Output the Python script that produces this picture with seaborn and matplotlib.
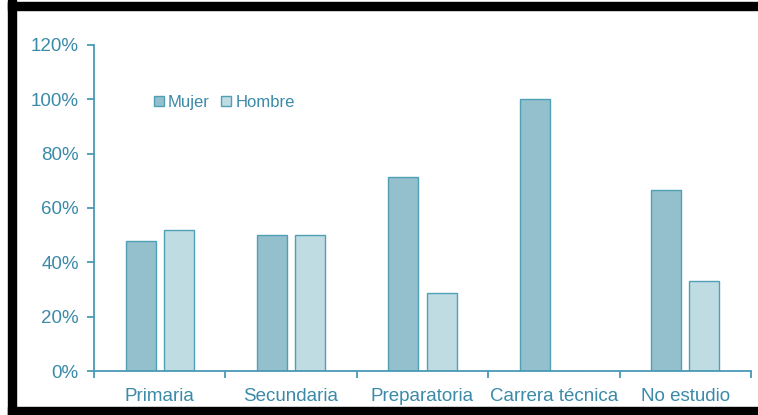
import numpy as np
import pandas as pd
import matplotlib
matplotlib.use('Agg')
import matplotlib.pyplot as plt
import seaborn as sns
from matplotlib.patches import Rectangle
from matplotlib.ticker import PercentFormatter

niveles = ['Primaria', 'Secundaria', 'Preparatoria', 'Carrera técnica', 'No estudio']
mujer = [0.48, 0.50, 0.714, 1.00, 0.667]
hombre = [0.52, 0.50, 0.286, 0.00, 0.333]

df = pd.DataFrame({
    'Nivel': niveles * 2,
    'Sexo': ['Mujer'] * 5 + ['Hombre'] * 5,
    'Valor': mujer + hombre,
})

sns.set_style('white')
plt.rcParams['font.family'] = ['Liberation Sans', 'DejaVu Sans']

txt = '#3a8aa8'
axc = '#4a9ab5'

fig = plt.figure(figsize=(7.58, 4.15), dpi=100)
ax = fig.add_axes([94/758, 1 - 371/415, (751 - 94)/758, (371 - 45)/415])

sns.barplot(data=df, x='Nivel', y='Valor', hue='Sexo', order=niveles,
            palette={'Mujer': '#93c0cc', 'Hombre': '#bfdce2'}, saturation=1,
            width=0.58, gap=0.21, edgecolor='#4f9fb5', linewidth=1, ax=ax)

ax.set_ylim(0, 1.2)
ax.set_xlim(-0.5, 4.5)
ax.set_yticks(np.arange(0, 1.21, 0.2))
ax.yaxis.set_major_formatter(PercentFormatter(1.0, decimals=0))
ax.set_xlabel('')
ax.set_ylabel('')

for s in ['top', 'right']:
    ax.spines[s].set_visible(False)
for s in ['left', 'bottom']:
    ax.spines[s].set_color(axc)
    ax.spines[s].set_linewidth(1.3)

ax.set_xticks(np.arange(-0.5, 4.6, 1.0), minor=True)
ax.tick_params(axis='x', which='major', bottom=False, length=0, pad=12,
               labelsize=13.5, labelcolor=txt)
ax.tick_params(axis='x', which='minor', bottom=True, length=5, width=1.3,
               color=axc, direction='out')
ax.tick_params(axis='y', length=5, width=1.3, color=axc, direction='out', pad=6,
               labelsize=13.5, labelcolor=txt, left=True)

leg = ax.legend(loc='upper left', bbox_to_anchor=(0.068, 0.893), ncol=2, frameon=False,
                fontsize=12, handlelength=0.6, handleheight=0.6, handletextpad=0.25,
                columnspacing=0.7, labelcolor=txt)

# marco negro
fig.patches.append(Rectangle((8/758, 0), 8/758, 1, transform=fig.transFigure,
                             color='black', zorder=10))
fig.patches.append(Rectangle((8/758, 1 - 10/415), 1, 8/415, transform=fig.transFigure,
                             color='black', zorder=10))
fig.patches.append(Rectangle((8/758, 0), 1, 8/415, transform=fig.transFigure,
                             color='black', zorder=10))

fig.savefig('out.png', dpi=100)
